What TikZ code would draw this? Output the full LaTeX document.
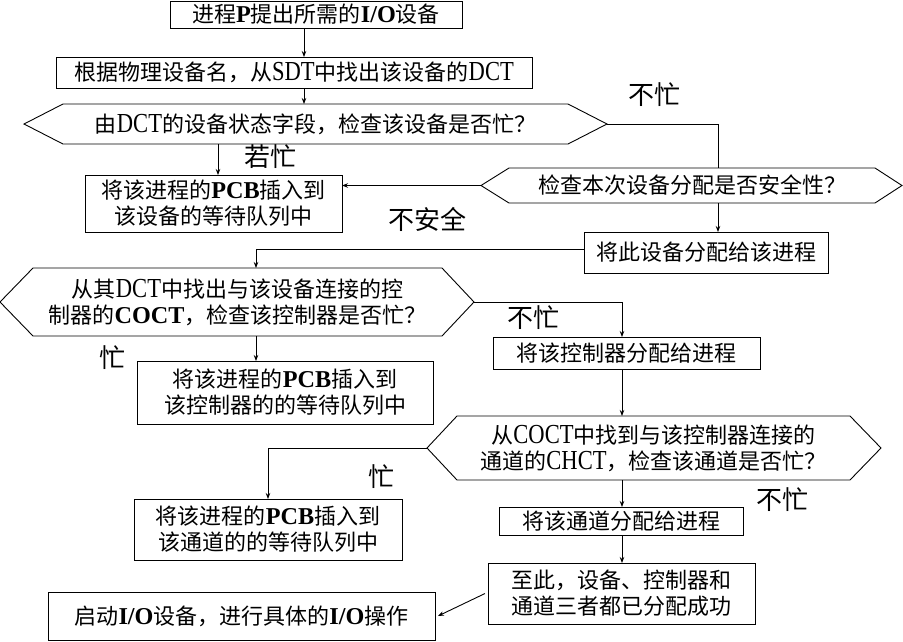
\documentclass[tikz,border=0pt]{standalone}
\usepackage{fontspec}
\setmainfont{Noto Sans CJK SC}
\newfontfamily\lrom[Scale=1.1]{Liberation Serif}
\newfontfamily\lcond[Scale=1.25,FakeStretch=0.82]{Liberation Serif}
\newcommand\latb[1]{{\lrom\bfseries #1}}
\newcommand\latc[1]{{\lcond #1}}
\usetikzlibrary{arrows.meta,calc}
\begin{document}
\begin{tikzpicture}[x=1pt,y=-1pt,
  box/.style={draw,line width=0.9pt,inner sep=0pt,outer sep=0pt,align=center,font=\fontsize{22}{26}\selectfont},
  hexn/.style={inner sep=0pt,outer sep=0pt,align=center,font=\fontsize{22}{26}\selectfont},
  hexline/.style={draw,line width=0.9pt,line join=miter},
  lbl/.style={font=\fontsize{26}{30}\selectfont,inner sep=0pt},
  conn/.style={line width=0.9pt},
  arr/.style={conn,-{Stealth[length=6pt,width=4.5pt]}}]
\fill[white] (0,0) rectangle (903,641);
\useasboundingbox (0,0) rectangle (903,641);

% boxes
\node[box,minimum width=292pt,minimum height=27pt] (b1) at (316,14.5) {进程\latb{P}提出所需的\latb{I/O}设备};
\node[box,minimum width=476pt,minimum height=31pt] (b2) at (294,72.5) {根据物理设备名，从\latc{SDT}中找出该设备的\latc{DCT}};
\node[box,minimum width=257pt,minimum height=57pt] (b3) at (213.5,203.5) {将该进程的\latb{PCB}插入到\\该设备的等待队列中};
\node[box,minimum width=244pt,minimum height=41pt] (b4) at (706,252.5) {将此设备分配给该进程};
\node[box,minimum width=267pt,minimum height=32pt] (b5) at (626.5,353) {将该控制器分配给进程};
\node[box,minimum width=296pt,minimum height=63pt] (b6) at (285,392.5) {将该进程的\latb{PCB}插入到\\该控制器的的等待队列中};
\node[box,minimum width=268pt,minimum height=61pt] (b7) at (268,529.5) {将该进程的\latb{PCB}插入到\\该通道的的等待队列中};
\node[box,minimum width=244pt,minimum height=28pt] (b8) at (621,521) {将该通道分配给进程};
\node[box,minimum width=267pt,minimum height=61pt] (b9) at (621.5,593.5) {至此，设备、控制器和\\通道三者都已分配成功};
\node[box,minimum width=387pt,minimum height=48pt] (b10) at (241.5,616) {启动\latb{I/O}设备，进行具体的\latb{I/O}操作};

% hexagons
\node[hexn,minimum width=505pt,minimum height=40pt] (h1) at (315.5,124) {由\latc{DCT}的设备状态字段，检查该设备是否忙？};
\coordinate (h1w) at ([xshift=-39pt]h1.west);
\coordinate (h1e) at ([xshift=39pt]h1.east);
\draw[hexline] (h1.north west) -- (h1.north east) -- (h1e) -- (h1.south east) -- (h1.south west) -- (h1w) -- cycle;

\node[hexn,minimum width=366pt,minimum height=35pt] (h2) at (692,185.5) {检查本次设备分配是否安全性？};
\coordinate (h2w) at ([xshift=-28pt]h2.west);
\coordinate (h2e) at ([xshift=27pt]h2.east);
\draw[hexline] (h2.north west) -- (h2.north east) -- (h2e) -- (h2.south east) -- (h2.south west) -- (h2w) -- cycle;

\node[hexn,minimum width=409pt,minimum height=68pt] (h3) at (237.5,302) {从其\latc{DCT}中找出与该设备连接的控\\制器的\latb{COCT}，检查该控制器是否忙？};
\coordinate (h3w) at ([xshift=-33pt]h3.west);
\coordinate (h3e) at ([xshift=32pt]h3.east);
\draw[hexline] (h3.north west) -- (h3.north east) -- (h3e) -- (h3.south east) -- (h3.south west) -- (h3w) -- cycle;

\node[hexn,minimum width=393pt,minimum height=64pt] (h4) at (653.5,448) {从\latc{COCT}中找到与该控制器连接的\\通道的\latc{CHCT}，检查该通道是否忙？};
\coordinate (h4w) at ([xshift=-30pt]h4.west);
\coordinate (h4e) at ([xshift=31pt]h4.east);
\draw[hexline] (h4.north west) -- (h4.north east) -- (h4e) -- (h4.south east) -- (h4.south west) -- (h4w) -- cycle;

% connectors
\draw[arr] ([xshift=-12pt]b1.south) -- ([xshift=-12pt]b1.south |- b2.north);
\draw[arr] ([xshift=10pt]b2.south) -- ([xshift=10pt]b2.south |- h1.north);
\draw[arr] ([xshift=4.5pt]b3.north |- h1.south) -- ([xshift=4.5pt]b3.north);
\draw[conn] (h1e) -| ([xshift=26pt]h2.north);
\draw[arr] (h2w) -- (h2w -| b3.east);
\draw[arr] ([xshift=26pt]h2.south) -- ([xshift=26pt]h2.south |- b4.north);
\draw[arr] ([yshift=3.5pt]b4.west) -| ([xshift=18.5pt]h3.north);
\draw[arr] (h3e) -| ([xshift=-4.5pt]b5.north);
\draw[arr] ([xshift=18.5pt]h3.south) -- ([xshift=18.5pt]h3.south |- b6.north);
\draw[arr] ([xshift=-4.5pt]b5.south) -- ([xshift=-4.5pt]b5.south |- h4.north);
\draw[arr] (h4w) -| (b7.north);
\draw[arr] ([xshift=-31.5pt]h4.south) -- ([xshift=-31.5pt]h4.south |- b8.north);
\draw[arr] ([xshift=1pt]b8.south) -- ([xshift=1pt]b8.south |- b9.north);
\draw[arr] ([xshift=-3pt]b9.west) -- ([xshift=3pt]b10.east);

% labels
\node[lbl] (l1) at (270,157) {若忙};
\node[lbl] (l2) at (654,95) {不忙};
\node[lbl] (l3) at (427,219) {不安全};
\node[lbl] (l4) at (533,318) {不忙};
\node[lbl] (l5) at (112,358) {忙};
\node[lbl] (l6) at (381,477) {忙};
\node[lbl] (l7) at (782,500) {不忙};
\end{tikzpicture}
\end{document}
